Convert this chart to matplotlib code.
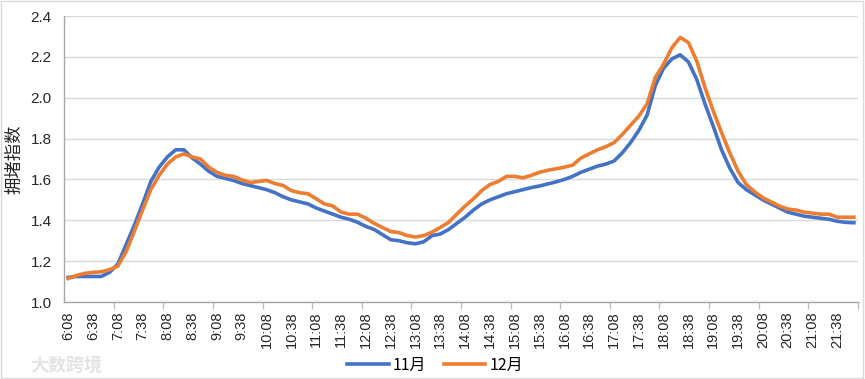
import numpy as np
import matplotlib
matplotlib.use("Agg")
import matplotlib.pyplot as plt
from matplotlib.patches import Rectangle

plt.rcParams['font.family'] = ['Noto Sans CJK SC', 'DejaVu Sans']

# time slots every 10 minutes, 6:08 .. 21:58
start_min = 6 * 60 + 8
times = ["%d:%02d" % divmod(start_min + 10 * k, 60) for k in range(96)]

nov = [1.12, 1.125, 1.125, 1.125, 1.125, 1.145, 1.185, 1.28, 1.375, 1.48,
       1.59, 1.66, 1.71, 1.745, 1.745, 1.705, 1.675, 1.64, 1.615, 1.605,
       1.595, 1.58, 1.57, 1.56, 1.55, 1.535, 1.515, 1.50, 1.49, 1.48,
       1.46, 1.445, 1.43, 1.415, 1.405, 1.39, 1.37, 1.355, 1.33, 1.305,
       1.30, 1.29, 1.285, 1.295, 1.325, 1.333, 1.355, 1.385, 1.415, 1.45,
       1.48, 1.50, 1.515, 1.53, 1.54, 1.55, 1.56, 1.568, 1.578, 1.588,
       1.60, 1.615, 1.635, 1.65, 1.665, 1.675, 1.69, 1.73, 1.78, 1.84,
       1.915, 2.06, 2.145, 2.19, 2.21, 2.175, 2.09, 1.97, 1.86, 1.745,
       1.655, 1.585, 1.55, 1.525, 1.50, 1.48, 1.46, 1.44, 1.43, 1.42,
       1.415, 1.41, 1.405, 1.395, 1.39, 1.388]

dec = [1.115, 1.13, 1.14, 1.145, 1.148, 1.158, 1.175, 1.245, 1.345, 1.45,
       1.55, 1.62, 1.675, 1.71, 1.725, 1.71, 1.70, 1.66, 1.635, 1.62,
       1.615, 1.598, 1.585, 1.59, 1.595, 1.58, 1.57, 1.545, 1.535, 1.53,
       1.505, 1.48, 1.47, 1.44, 1.43, 1.43, 1.41, 1.385, 1.365, 1.345,
       1.34, 1.325, 1.318, 1.325, 1.342, 1.365, 1.39, 1.43, 1.47, 1.505,
       1.545, 1.575, 1.59, 1.615, 1.615, 1.608, 1.62, 1.635, 1.645, 1.652,
       1.66, 1.67, 1.705, 1.725, 1.745, 1.76, 1.78, 1.82, 1.865, 1.91,
       1.97, 2.10, 2.165, 2.245, 2.295, 2.27, 2.18, 2.05, 1.935, 1.83,
       1.73, 1.64, 1.575, 1.54, 1.51, 1.49, 1.47, 1.455, 1.45, 1.44,
       1.435, 1.43, 1.43, 1.415, 1.415, 1.415]

labels = ["11月", "12月"]
colors = ["#4472C4", "#ED7D31"]

fig = plt.figure(figsize=(8.65, 3.79), dpi=100)
ax = fig.add_axes([64 / 865, 1 - 302 / 379, 794 / 865, 286 / 379])

x = np.arange(len(times))
ax.plot(x, nov, color=colors[0], lw=2.6, label=labels[0], solid_joinstyle='round')
ax.plot(x, dec, color=colors[1], lw=2.6, label=labels[1], solid_joinstyle='round')

ax.set_xlim(-0.5, len(times) - 0.5)
ax.set_ylim(1.0, 2.4)
yt = np.arange(1.0, 2.41, 0.2)
ax.set_yticks(yt)
ax.set_yticklabels(["%.1f" % v for v in yt], fontsize=11, family='Liberation Sans')
ax.tick_params(axis='y', length=0, pad=9, labelcolor='#262626')
ax.grid(axis='y', color='#D9D9D9', lw=1)
ax.set_axisbelow(True)

# labels every 30 min, tick marks every hour (between categories)
ax.set_xticks(x[::3])
ax.set_xticklabels(times[::3], rotation=90, fontsize=10.5, color='#262626',
                   family='Liberation Sans')
ax.tick_params(axis='x', which='major', length=0, pad=7)
ax.set_xticks(np.arange(5.5, len(times), 6), minor=True)
ax.tick_params(axis='x', which='minor', length=5, color='#BFBFBF', width=1)

for s in ['top', 'right']:
    ax.spines[s].set_visible(False)
for s in ['left', 'bottom']:
    ax.spines[s].set_color('#A6A6A6')
    ax.spines[s].set_linewidth(1)

ax.set_ylabel("拥堵指数", fontsize=12.5, color='#262626', labelpad=5)

fig.legend(loc='center', bbox_to_anchor=(435 / 865, 1 - 365 / 379), ncol=2, frameon=False,
           fontsize=11.5, handlelength=2.6, columnspacing=1.1, handletextpad=0.25)

fig.text(30 / 865, 1 - 365 / 379, "大数跨境", fontsize=13, color='#E3E3E3',
         ha='left', va='center', fontweight='bold')

fig.patches.append(Rectangle((0.001, 0.002), 0.997, 0.995, transform=fig.transFigure,
                             fill=False, edgecolor='#D9D9D9', lw=1))

fig.savefig("out.png", dpi=100)
